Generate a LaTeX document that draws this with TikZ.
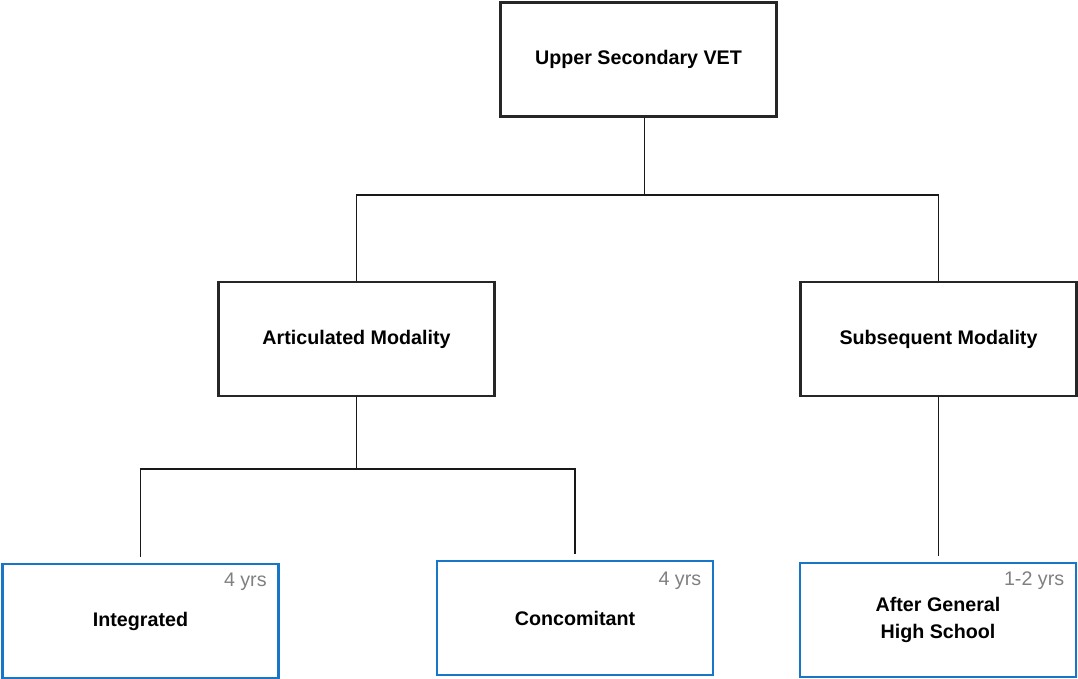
\documentclass[tikz,border=0pt]{standalone}
\usepackage{fontspec}
\setmainfont{Liberation Sans}
\usetikzlibrary{calc}

\definecolor{vetblue}{RGB}{24,118,200}
\definecolor{yrsgrey}{RGB}{128,128,128}

\begin{document}
\begin{tikzpicture}[x=0.025cm, y=-0.025cm,
    box/.style={line width=2pt, minimum width=6.9cm, minimum height=2.85cm,
        inner sep=0pt, align=center, font=\bfseries\fontsize{14}{19}\selectfont},
    mainbox/.style={box, draw=black!85},
    progbox/.style={box, draw=vetblue},
    yrs/.style={anchor=base east, inner sep=0pt, text=yrsgrey,
        font=\fontsize{14}{17}\selectfont},
    link/.style={line width=1.4pt, draw=black!90}]

\def\forkdrop{77}
\def\gap{4pt}

\useasboundingbox (0,0) rectangle (1078,678);

% top level
\node[mainbox] (vet) at (638.5, 59.5) {Upper Secondary VET};

% modalities
\node[mainbox] (art) at (356.5, 339) {Articulated Modality};
\node[mainbox] (sub) at (938.5, 339) {Subsequent Modality};

% programmes
\node[progbox] (integ) at (140.5, 621) {Integrated};
\node[progbox] (conc) at (575, 618) {Concomitant};
\node[progbox] (after) at (938, 620) {After General\\High School};

\node[yrs] (integyrs) at ($(integ.north east)+(-13,24)$) {4 yrs};
\node[yrs] (concyrs) at ($(conc.north east)+(-13,26)$) {4 yrs};
\node[yrs] (afteryrs) at ($(after.north east)+(-13,24)$) {1-2 yrs};

\draw[link] ($(vet.south)+(6,0)$) -- ++(0,\forkdrop) coordinate (fork1);
\draw[link] (fork1) -| (art.north);
\draw[link] (fork1) -| (sub.north);

\draw[link] (art.south) -- ++(0,72) coordinate (fork2);
\draw[link, shorten >=\gap] (fork2) -| (integ.north);
\draw[link, shorten >=\gap] (fork2) -| (conc.north);
\draw[link, shorten >=\gap] (sub.south) -- (sub.south |- after.north);

\end{tikzpicture}
\end{document}
